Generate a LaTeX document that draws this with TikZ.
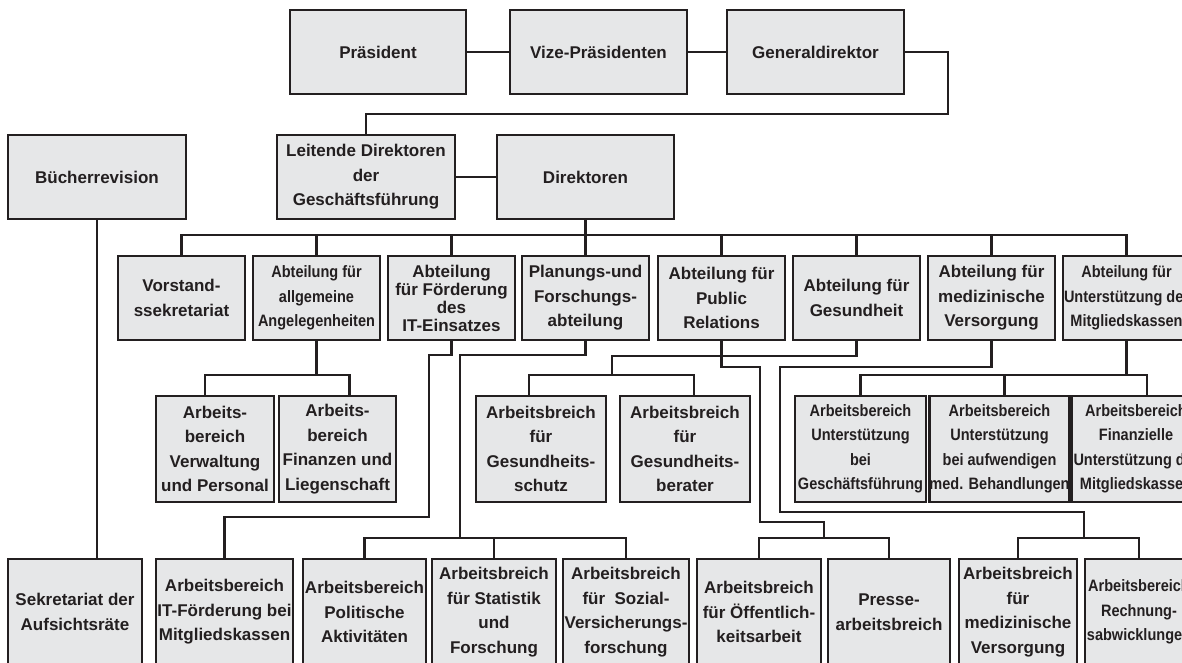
\documentclass[tikz,border=0pt]{standalone}
\usepackage{fontspec}
\setmainfont{Liberation Sans}
\newfontfamily\condf[FakeStretch=0.88]{Liberation Sans}
\usetikzlibrary{calc}
\definecolor{boxfill}{HTML}{E6E7E8}
\definecolor{ink}{HTML}{231F20}

% \ubox[options]{name}{left}{right}{top}{bottom}{text}  (pixel-style coordinates, y downwards)
\newcommand\ubox[7][]{%
  \node[orgbox,#1,minimum width={#4-#3},minimum height={#6-#5}] (#2)
    at ({(#3+#4)/2},{(#5+#6)/2}) {#7};}

\begin{document}
\begin{tikzpicture}[x=1pt,y=-1pt,
  orgbox/.style={draw=ink,fill=boxfill,line width=2.5pt,inner sep=0pt,
    align=center,text=ink,font=\fontsize{17}{24.5}\selectfont\bfseries},
  cond/.style={font=\condf\fontsize{16.5}{24.5}\selectfont\bfseries},
  tight/.style={font=\fontsize{17}{18}\selectfont\bfseries},
  link/.style={draw=ink,line width=2.5pt}]
\useasboundingbox (0,0) rectangle (1182,662);
\clip (0,0) rectangle (1182,662);
\fill[white] (0,0) rectangle (1182,662);

% bus levels
\coordinate (b2) at (0,235);
\coordinate (b3) at (0,375);
\coordinate (b4) at (0,538);

% top management
\ubox{pr}{290}{466}{10}{94}{Präsident}
\ubox{vp}{510}{687}{10}{94}{Vize-Präsidenten}
\ubox{gd}{727}{904}{10}{94}{Generaldirektor}
\ubox{ld}{277}{455}{135}{219}{Leitende Direktoren\\der\\Geschäftsführung}
\ubox{di}{497}{674}{135}{219}{Direktoren}
\ubox{bu}{8}{186}{135}{219}{Bücherrevision}

% departments
\ubox{vs}{118}{245}{256}{340}{Vorstand-\\ssekretariat}
\ubox[cond]{ag}{253}{380}{256}{340}{Abteilung für\\allgemeine\\Angelegenheiten}
\ubox[tight]{it}{388}{515}{256}{340}{Abteilung\\für Förderung\\des\\IT-Einsatzes}
\ubox{pl}{522}{649}{256}{340}{Planungs-und\\Forschungs-\\abteilung}
\ubox{prl}{658}{785}{256}{340}{Abteilung für\\Public\\Relations}
\ubox{ge}{793}{920}{256}{340}{Abteilung für\\Gesundheit}
\ubox{mv}{928}{1055}{256}{340}{Abteilung für\\medizinische\\Versorgung}
\ubox[cond]{uk}{1063}{1190}{256}{340}{Abteilung für\\Unterstützung der\\Mitgliedskassen}

% middle row of work areas
\ubox{vw}{156}{274}{396}{502}{Arbeits-\\bereich\\Verwaltung\\und Personal}
\ubox{fl}{279}{396}{396}{502}{Arbeits-\\bereich\\Finanzen und\\Liegenschaft}
\ubox{gs}{476}{606}{396}{502}{Arbeitsbreich\\für\\Gesundheits-\\schutz}
\ubox{gb}{620}{750}{396}{502}{Arbeitsbreich\\für\\Gesundheits-\\berater}
\ubox[cond]{ugf}{795}{926}{396}{502}{Arbeitsbereich\\Unterstützung\\bei\\Geschäftsführung}
\ubox[cond]{ua}{934}{1065}{396}{502}{Arbeitsbereich\\Unterstützung\\bei aufwendigen\\med. Behandlungen}
\ubox[cond]{fu}{1072}{1200}{396}{502}{Arbeitsbereich\\Finanzielle\\Unterstützung der\\Mitgliedskassen}

% bottom row
\ubox{se}{8}{142}{559}{665}{Sekretariat der\\Aufsichtsräte}
\ubox{itf}{156}{293}{559}{665}{Arbeitsbereich\\IT-Förderung bei\\Mitgliedskassen}
\ubox{po}{303}{426}{559}{665}{Arbeitsbereich\\Politische\\Aktivitäten}
\ubox{st}{432}{556}{559}{665}{Arbeitsbreich\\für Statistik\\und\\Forschung}
\ubox{so}{563}{689}{559}{665}{Arbeitsbreich\\für~ Sozial-\\Versicherungs-\\forschung}
\ubox{oe}{697}{821}{559}{665}{Arbeitsbreich\\für Öffentlich-\\keitsarbeit}
\ubox{pa}{828}{950}{559}{665}{Presse-\\arbeitsbreich}
\ubox{mvl}{959}{1077}{559}{665}{Arbeitsbreich\\für\\medizinische\\Versorgung}
\ubox[cond]{rs}{1085}{1193}{559}{665}{Arbeitsbereich\\Rechnung-\\sabwicklungen}

% connectors: top management
\draw[link] (pr.east) -- (vp.west);
\draw[link] (vp.east) -- (gd.west);
\draw[link] (gd.east) -| (948,114) -| (ld.north);
\draw[link] (ld.east) -- (di.west);
\draw[link] (di.south) -- (pl.north);
\draw[link] (bu.south) -- (bu.south |- se.north);

% connectors: department bus
\draw[link] (vs.north) |- (b2 -| uk.north) -- (uk.north);
\foreach \n in {ag,it,prl,ge,mv}
  \draw[link] (\n.north) -- (\n.north |- b2);

% connectors: general affairs
\draw[link] (ag.south) -- (ag.south |- b3);
\draw[link] ([xshift=-10pt]vw.north) |- ([xshift=12pt]fl.north |- b3) -- ([xshift=12pt]fl.north);

% connectors: IT promotion
\draw[link] (it.south) |- (429,355) -- (429,517) -| (itf.north);

% connectors: planning and research
\draw[link] (pl.south) |- (460,355) -- (b4 -| 460,0);
\draw[link] (po.north) |- (b4 -| so.north) -- (so.north);
\draw[link] (st.north) -- (st.north |- b4);

% connectors: public relations
\draw[link] (prl.south) |- (760,367) -- (760,522) -| (824,538);
\draw[link] (oe.north) |- (b4 -| pa.north) -- (pa.north);

% connectors: health
\draw[link] (ge.south) |- (612,356) -- (612,375);
\draw[link] ([xshift=-12pt]gs.north) |- ([xshift=9pt]gb.north |- b3) -- ([xshift=9pt]gb.north);

% connectors: medical care
\draw[link] (mv.south) |- (780,367) -- (780,512) -| (1084,538);
\draw[link] (mvl.north) |- (b4 -| rs.north) -- (rs.north);

% connectors: support of member funds
\draw[link] (uk.south) -- (uk.south |- b3);
\draw[link] (ugf.north) |- ([xshift=11pt]fu.north |- b3) -- ([xshift=11pt]fu.north);
\draw[link] ([xshift=5pt]ua.north) -- ([xshift=5pt]ua.north |- b3);
\end{tikzpicture}
\end{document}
